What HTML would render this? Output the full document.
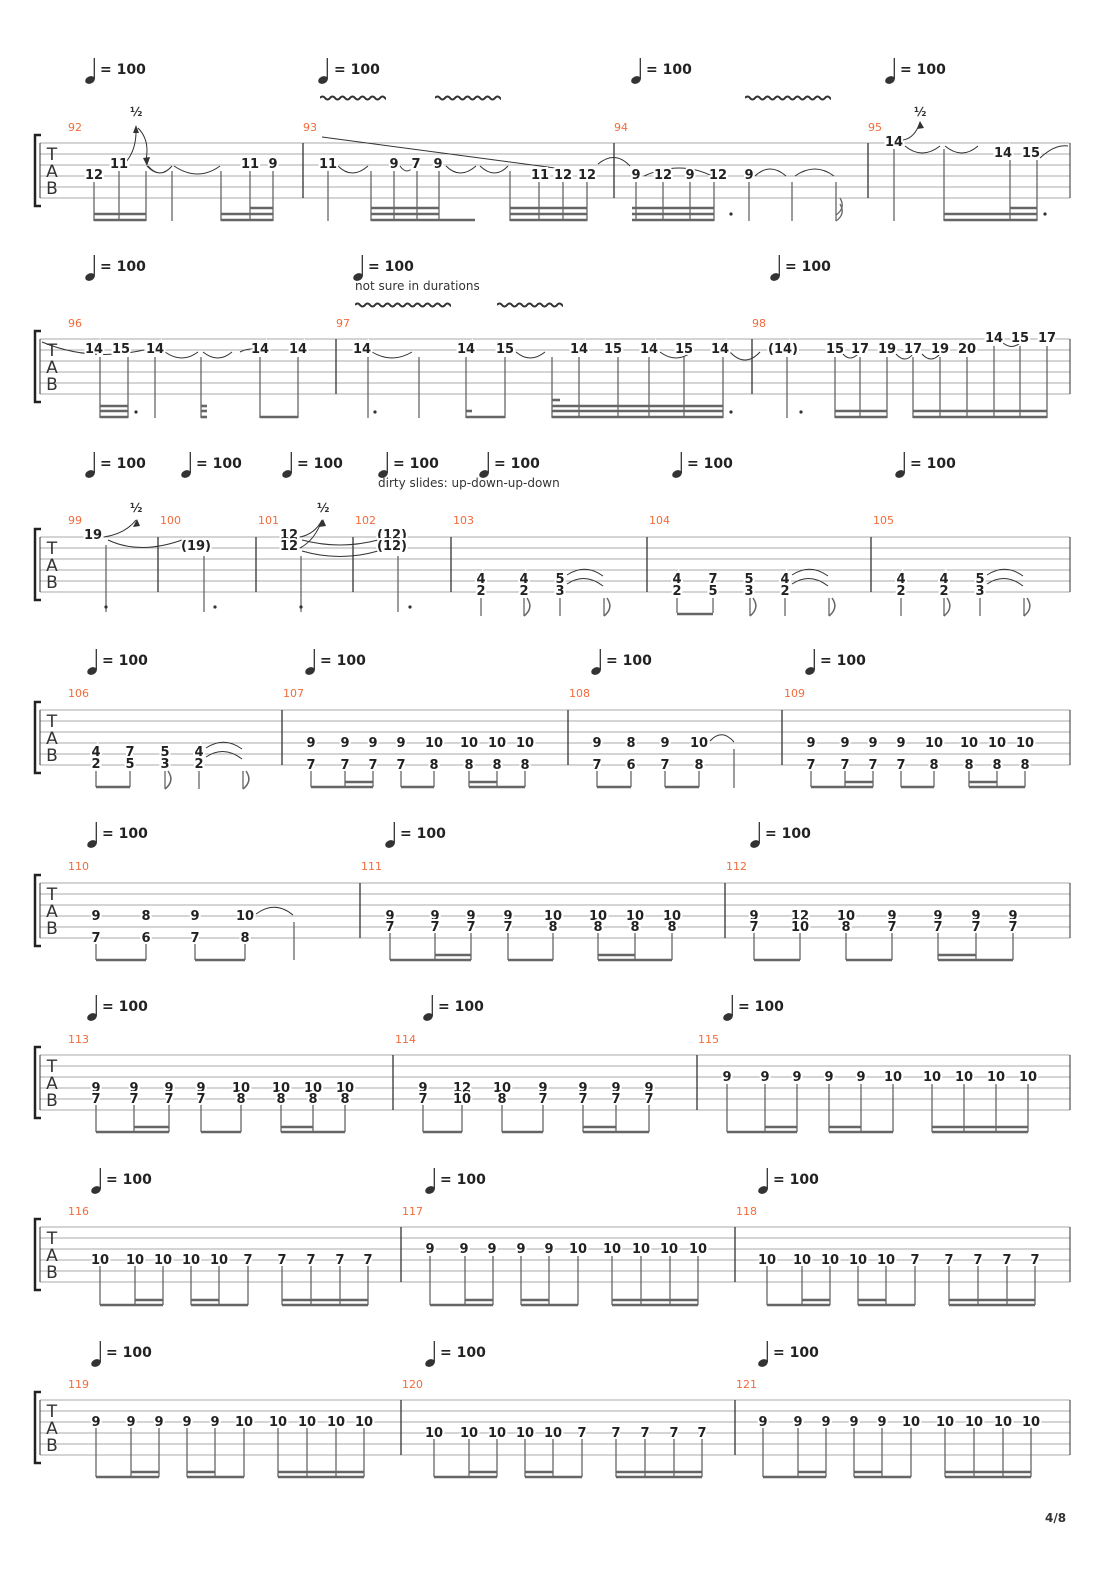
<!DOCTYPE html>
<html><head><meta charset="utf-8"><style>
html,body{margin:0;padding:0;background:#fff}
svg{display:block}
.n{font:bold 13px "DejaVu Sans","Liberation Sans",sans-serif;text-anchor:middle;fill:#222;paint-order:stroke;stroke:#fff;stroke-width:4px}
.bn{font:11px "DejaVu Sans","Liberation Sans",sans-serif;fill:#f26b3a}
.tp{font:bold 14px "DejaVu Sans","Liberation Sans",sans-serif;fill:#222}
.tab{font:17px "DejaVu Sans","Liberation Sans",sans-serif;fill:#333;text-anchor:middle}
.tx{font:12px "DejaVu Sans","Liberation Sans",sans-serif;fill:#333}
.st line{stroke:#aaa;stroke-width:1}
.s{stroke:#666;stroke-width:1.3}
.b{stroke:#666;stroke-width:2.6}
.bar{stroke:#333;stroke-width:1.3}
.tie{fill:none;stroke:#333;stroke-width:1}
</style></head><body>
<svg width="1110" height="1570" viewBox="0 0 1110 1570" xmlns="http://www.w3.org/2000/svg">
<defs>
<g id="q"><ellipse cx="0" cy="0" rx="5" ry="3.6" transform="rotate(-25)" fill="#333"/><line x1="4.3" y1="-1" x2="4.3" y2="-22" stroke="#333" stroke-width="1.3"/></g>
<g id="staff" class="st"><line x1="40" y1="0" x2="1070" y2="0"/><line x1="40" y1="11" x2="1070" y2="11"/><line x1="40" y1="22" x2="1070" y2="22"/><line x1="40" y1="33" x2="1070" y2="33"/><line x1="40" y1="44" x2="1070" y2="44"/><line x1="40" y1="55" x2="1070" y2="55"/></g>
<g id="head"><path d="M41 -8 H35 V63 H41" fill="none" stroke="#222" stroke-width="2.5"/><line x1="40" y1="0" x2="40" y2="55" stroke="#333"/><text class="tab" x="52" y="17">T</text><text class="tab" x="52" y="34">A</text><text class="tab" x="52" y="51">B</text><line x1="1070" y1="0" x2="1070" y2="55" stroke="#333"/></g>
<path id="wv" d="M0 0 q2.5 -3 5 0 t5 0 t5 0 t5 0 t5 0 t5 0 t5 0 t5 0 t5 0 t5 0 t5 0 t5 0 t5 0 t5 0 t5 0 t5 0 t5 0 t5 0 t5 0 t5 0" fill="none" stroke="#333" stroke-width="2"/>
<g id="p7a">
<line class="s" x1="100" y1="1256" x2="100" y2="1305"/><line class="s" x1="135" y1="1256" x2="135" y2="1305"/><line class="s" x1="163" y1="1256" x2="163" y2="1305"/><line class="s" x1="191" y1="1256" x2="191" y2="1305"/><line class="s" x1="219" y1="1256" x2="219" y2="1305"/><line class="s" x1="248" y1="1256" x2="248" y2="1305"/><line class="s" x1="282" y1="1256" x2="282" y2="1305"/><line class="s" x1="311" y1="1256" x2="311" y2="1305"/><line class="s" x1="340" y1="1256" x2="340" y2="1305"/><line class="s" x1="368" y1="1256" x2="368" y2="1305"/>
<line class="b" x1="100" y1="1305" x2="163" y2="1305"/><line class="b" x1="135" y1="1300" x2="163" y2="1300"/><line class="b" x1="191" y1="1305" x2="248" y2="1305"/><line class="b" x1="191" y1="1300" x2="219" y2="1300"/><line class="b" x1="282" y1="1305" x2="368" y2="1305"/><line class="b" x1="282" y1="1300" x2="368" y2="1300"/>
</g>
</defs>

<!-- ============ SYSTEM 1 (top 143) ============ -->
<use href="#staff" y="143"/><use href="#head" y="143"/>
<use href="#q" x="90" y="80"/><text class="tp" x="100" y="74">= 100</text>
<use href="#q" x="323" y="80"/><text class="tp" x="334" y="74">= 100</text>
<use href="#q" x="636" y="80"/><text class="tp" x="646" y="74">= 100</text>
<use href="#q" x="890" y="80"/><text class="tp" x="900" y="74">= 100</text>
<svg x="320" y="94" width="66" height="8" overflow="hidden"><use href="#wv" y="4"/></svg>
<svg x="435" y="94" width="66" height="8" overflow="hidden"><use href="#wv" y="4"/></svg>
<svg x="745" y="94" width="86" height="8" overflow="hidden"><use href="#wv" y="4"/></svg>
<text class="bn" x="68" y="131">92</text><text class="bn" x="303" y="131">93</text><text class="bn" x="614" y="131">94</text><text class="bn" x="868" y="131">95</text>
<line class="bar" x1="303" y1="143" x2="303" y2="198"/><line class="bar" x1="614" y1="143" x2="614" y2="198"/><line class="bar" x1="868" y1="143" x2="868" y2="198"/>
<text class="tx" x="130" y="116" style="font-weight:bold">½</text>
<path class="tie" d="M125 163 Q137 150 136 127 M138 128 Q150 140 146 160"/>
<path d="M133 133 L136 125 L139 133Z M143 158 L147 166 L150 157Z" fill="#333"/>
<path class="tie" d="M147 166 Q160 180 172 166 M148 166 Q160 180 172 166 M174 166 Q198 182 220 166"/>
<line class="s" x1="94" y1="182" x2="94" y2="221"/><line class="s" x1="119" y1="171" x2="119" y2="221"/><line class="s" x1="146" y1="171" x2="146" y2="221"/><line class="s" x1="172" y1="171" x2="172" y2="221"/><line class="s" x1="221" y1="171" x2="221" y2="221"/><line class="s" x1="250" y1="171" x2="250" y2="221"/><line class="s" x1="273" y1="171" x2="273" y2="221"/>
<line class="b" x1="94" y1="214" x2="146" y2="214"/><line class="b" x1="94" y1="220" x2="146" y2="220"/>
<line class="b" x1="221" y1="214" x2="273" y2="214"/><line class="b" x1="221" y1="220" x2="273" y2="220"/><line class="b" x1="250" y1="208" x2="273" y2="208"/>
<text class="n" x="94" y="179">12</text><text class="n" x="119" y="168">11</text><text class="n" x="250" y="168">11</text><text class="n" x="273" y="168">9</text>
<line x1="322" y1="137" x2="555" y2="168" stroke="#333"/>
<path class="tie" d="M338 166 Q352 180 368 166 M400 166 Q407 176 414 166 M446 166 Q460 180 476 166 M480 166 Q495 180 508 166"/>
<line class="s" x1="328" y1="171" x2="328" y2="221"/><line class="s" x1="371" y1="171" x2="371" y2="221"/><line class="s" x1="394" y1="171" x2="394" y2="221"/><line class="s" x1="417" y1="171" x2="417" y2="221"/><line class="s" x1="439" y1="171" x2="439" y2="221"/><line class="s" x1="510" y1="171" x2="510" y2="221"/><line class="s" x1="539" y1="182" x2="539" y2="221"/><line class="s" x1="563" y1="182" x2="563" y2="221"/><line class="s" x1="587" y1="182" x2="587" y2="221"/>
<line class="b" x1="371" y1="208" x2="439" y2="208"/><line class="b" x1="371" y1="214" x2="439" y2="214"/><line class="b" x1="371" y1="220" x2="475" y2="220"/>
<line class="b" x1="510" y1="208" x2="587" y2="208"/><line class="b" x1="510" y1="214" x2="587" y2="214"/><line class="b" x1="510" y1="220" x2="587" y2="220"/>
<text class="n" x="328" y="168">11</text><text class="n" x="394" y="168">9</text><text class="n" x="416" y="168">7</text><text class="n" x="438" y="168">9</text>
<text class="n" x="540" y="179">11</text><text class="n" x="563" y="179">12</text><text class="n" x="587" y="179">12</text>
<path class="tie" d="M598 164 Q615 150 630 166 M644 176 Q680 160 712 176 M755 176 Q770 162 786 176 M795 176 Q815 162 834 176"/>
<line class="s" x1="636" y1="182" x2="636" y2="221"/><line class="s" x1="663" y1="182" x2="663" y2="221"/><line class="s" x1="690" y1="182" x2="690" y2="221"/><line class="s" x1="714" y1="182" x2="714" y2="221"/><line class="s" x1="749" y1="182" x2="749" y2="221"/><line class="s" x1="792" y1="182" x2="792" y2="221"/><line class="s" x1="836" y1="182" x2="836" y2="221"/>
<line class="b" x1="632" y1="208" x2="714" y2="208"/><line class="b" x1="632" y1="214" x2="714" y2="214"/><line class="b" x1="632" y1="220" x2="714" y2="220"/>
<circle cx="731" cy="214" r="1.6" fill="#333"/>
<path d="M836 221 Q846 214 840 204 M836 215 Q846 208 840 198" fill="none" stroke="#666" stroke-width="1.3"/>
<text class="n" x="636" y="179">9</text><text class="n" x="663" y="179">12</text><text class="n" x="690" y="179">9</text><text class="n" x="718" y="179">12</text><text class="n" x="749" y="179">9</text>
<text class="tx" x="914" y="116" style="font-weight:bold">½</text>
<path class="tie" d="M903 140 Q915 138 920 122"/><path d="M917 129 L920 121 L924 128Z" fill="#333"/>
<path class="tie" d="M905 146 Q922 160 940 146 M945 146 Q962 160 978 146 M1040 158 Q1055 144 1068 146"/>
<line class="s" x1="894" y1="149" x2="894" y2="221"/><line class="s" x1="944" y1="149" x2="944" y2="221"/><line class="s" x1="1010" y1="160" x2="1010" y2="221"/><line class="s" x1="1037" y1="160" x2="1037" y2="221"/>
<line class="b" x1="944" y1="214" x2="1037" y2="214"/><line class="b" x1="944" y1="220" x2="1037" y2="220"/><line class="b" x1="1010" y1="208" x2="1037" y2="208"/>
<circle cx="1045" cy="214" r="1.6" fill="#333"/>
<text class="n" x="894" y="146">14</text><text class="n" x="1003" y="157">14</text><text class="n" x="1031" y="157">15</text>

<!-- ============ SYSTEM 2 (top 339) ============ -->
<use href="#staff" y="339"/><use href="#head" y="339"/>
<use href="#q" x="90" y="277"/><text class="tp" x="100" y="271">= 100</text>
<use href="#q" x="358" y="277"/><text class="tp" x="368" y="271">= 100</text>
<use href="#q" x="775" y="277"/><text class="tp" x="785" y="271">= 100</text>
<text class="tx" x="355" y="290">not sure in durations</text>
<svg x="355" y="301" width="96" height="8" overflow="hidden"><use href="#wv" y="4"/></svg>
<svg x="497" y="301" width="66" height="8" overflow="hidden"><use href="#wv" y="4"/></svg>
<text class="bn" x="68" y="327">96</text><text class="bn" x="336" y="327">97</text><text class="bn" x="752" y="327">98</text>
<line class="bar" x1="336" y1="339" x2="336" y2="394"/><line class="bar" x1="752" y1="339" x2="752" y2="394"/>
<path class="tie" d="M42 342 Q90 362 144 350 M165 352 Q182 364 198 352 M203 352 Q218 364 232 352 M240 352 Q252 346 262 352 M372 352 Q392 364 412 352 M516 352 Q530 364 545 352 M660 352 Q676 364 692 352 M730 352 Q745 368 760 352"/>
<line class="s" x1="100" y1="357" x2="100" y2="418"/><line class="s" x1="128" y1="357" x2="128" y2="418"/><line class="s" x1="155" y1="357" x2="155" y2="418"/><line class="s" x1="201" y1="357" x2="201" y2="418"/><line class="s" x1="260" y1="357" x2="260" y2="418"/><line class="s" x1="298" y1="357" x2="298" y2="418"/>
<line class="b" x1="100" y1="406" x2="128" y2="406"/><line class="b" x1="100" y1="411" x2="128" y2="411"/><line class="b" x1="100" y1="417" x2="128" y2="417"/><circle cx="136" cy="412" r="1.6" fill="#333"/>
<line class="b" x1="201" y1="406" x2="207" y2="406"/><line class="b" x1="201" y1="411" x2="207" y2="411"/><line class="b" x1="201" y1="417" x2="207" y2="417"/>
<line class="b" x1="260" y1="417" x2="298" y2="417"/>
<text class="n" x="94" y="353">14</text><text class="n" x="121" y="353">15</text><text class="n" x="155" y="353">14</text><text class="n" x="260" y="353">14</text><text class="n" x="298" y="353">14</text>
<line class="s" x1="368" y1="357" x2="368" y2="418"/><line class="s" x1="419" y1="357" x2="419" y2="418"/><line class="s" x1="466" y1="357" x2="466" y2="418"/><line class="s" x1="505" y1="357" x2="505" y2="418"/><line class="s" x1="552" y1="357" x2="552" y2="418"/><line class="s" x1="579" y1="357" x2="579" y2="418"/><line class="s" x1="618" y1="357" x2="618" y2="418"/><line class="s" x1="649" y1="357" x2="649" y2="418"/><line class="s" x1="684" y1="357" x2="684" y2="418"/><line class="s" x1="723" y1="357" x2="723" y2="418"/>
<circle cx="375" cy="412" r="1.6" fill="#333"/><line class="b" x1="466" y1="411" x2="472" y2="411"/><line class="b" x1="466" y1="417" x2="505" y2="417"/>
<line class="b" x1="552" y1="400" x2="560" y2="400"/><line class="b" x1="552" y1="406" x2="723" y2="406"/><line class="b" x1="552" y1="411" x2="723" y2="411"/><line class="b" x1="552" y1="417" x2="723" y2="417"/><circle cx="731" cy="412" r="1.6" fill="#333"/>
<text class="n" x="362" y="353">14</text><text class="n" x="466" y="353">14</text><text class="n" x="505" y="353">15</text><text class="n" x="579" y="353">14</text><text class="n" x="613" y="353">15</text><text class="n" x="649" y="353">14</text><text class="n" x="684" y="353">15</text><text class="n" x="720" y="353">14</text>
<path class="tie" d="M843 354 Q850 362 858 354 M896 354 Q905 364 913 354 M922 354 Q931 364 940 354 M1003 343 Q1012 350 1020 343"/>
<line class="s" x1="787" y1="357" x2="787" y2="418"/><line class="s" x1="835" y1="357" x2="835" y2="418"/><line class="s" x1="860" y1="357" x2="860" y2="418"/><line class="s" x1="887" y1="357" x2="887" y2="418"/><line class="s" x1="913" y1="357" x2="913" y2="418"/><line class="s" x1="940" y1="357" x2="940" y2="418"/><line class="s" x1="967" y1="357" x2="967" y2="418"/><line class="s" x1="994" y1="346" x2="994" y2="418"/><line class="s" x1="1020" y1="346" x2="1020" y2="418"/><line class="s" x1="1047" y1="346" x2="1047" y2="418"/>
<circle cx="801" cy="412" r="1.6" fill="#333"/>
<line class="b" x1="835" y1="411" x2="887" y2="411"/><line class="b" x1="835" y1="417" x2="887" y2="417"/>
<line class="b" x1="913" y1="411" x2="1047" y2="411"/><line class="b" x1="913" y1="417" x2="1047" y2="417"/>
<text class="n" x="783" y="353">(14)</text><text class="n" x="835" y="353">15</text><text class="n" x="860" y="353">17</text><text class="n" x="887" y="353">19</text><text class="n" x="913" y="353">17</text><text class="n" x="940" y="353">19</text><text class="n" x="967" y="353">20</text>
<text class="n" x="994" y="342">14</text><text class="n" x="1020" y="342">15</text><text class="n" x="1047" y="342">17</text>

<!-- ============ SYSTEM 3 (top 537) ============ -->
<use href="#staff" y="537"/><use href="#head" y="537"/>
<use href="#q" x="90" y="474"/><text class="tp" x="100" y="468">= 100</text>
<use href="#q" x="186" y="474"/><text class="tp" x="196" y="468">= 100</text>
<use href="#q" x="287" y="474"/><text class="tp" x="297" y="468">= 100</text>
<use href="#q" x="383" y="474"/><text class="tp" x="393" y="468">= 100</text>
<use href="#q" x="484" y="474"/><text class="tp" x="494" y="468">= 100</text>
<use href="#q" x="677" y="474"/><text class="tp" x="687" y="468">= 100</text>
<use href="#q" x="900" y="474"/><text class="tp" x="910" y="468">= 100</text>
<text class="tx" x="378" y="487">dirty slides: up-down-up-down</text>
<text class="bn" x="68" y="524">99</text><text class="bn" x="160" y="524">100</text><text class="bn" x="258" y="524">101</text><text class="bn" x="355" y="524">102</text><text class="bn" x="453" y="524">103</text><text class="bn" x="649" y="524">104</text><text class="bn" x="873" y="524">105</text>
<line class="bar" x1="158" y1="537" x2="158" y2="592"/><line class="bar" x1="256" y1="537" x2="256" y2="592"/><line class="bar" x1="353" y1="537" x2="353" y2="592"/><line class="bar" x1="451" y1="537" x2="451" y2="592"/><line class="bar" x1="647" y1="537" x2="647" y2="592"/><line class="bar" x1="871" y1="537" x2="871" y2="592"/>
<text class="tx" x="130" y="512" style="font-weight:bold">½</text>
<path class="tie" d="M104 537 Q125 534 136 520"/><path d="M133 527 L137 519 L140 526Z" fill="#333"/>
<path class="tie" d="M108 540 Q140 555 182 540"/>
<text class="tx" x="317" y="512" style="font-weight:bold">½</text>
<path class="tie" d="M300 537 Q315 534 322 520 M300 548 Q315 540 322 520"/><path d="M319 527 L323 519 L326 526Z" fill="#333"/>
<path class="tie" d="M302 540 Q340 550 378 540 M302 551 Q340 562 378 551"/>
<line class="s" x1="106" y1="545" x2="106" y2="612"/><line class="s" x1="204" y1="556" x2="204" y2="612"/><line class="s" x1="301" y1="556" x2="301" y2="612"/><line class="s" x1="398" y1="556" x2="398" y2="612"/>
<circle cx="106" cy="607" r="1.6" fill="#333"/><circle cx="215" cy="607" r="1.6" fill="#333"/><circle cx="301" cy="607" r="1.6" fill="#333"/><circle cx="410" cy="607" r="1.6" fill="#333"/>
<text class="n" x="93" y="539">19</text><text class="n" x="196" y="550">(19)</text><text class="n" x="289" y="539">12</text><text class="n" x="289" y="550">12</text><text class="n" x="392" y="539">(12)</text><text class="n" x="392" y="550">(12)</text>
<path class="tie" d="M567 575 Q585 563 603 576 M567 584 Q585 572 603 586"/>
<line class="s" x1="481" y1="598" x2="481" y2="616"/><line class="s" x1="524" y1="598" x2="524" y2="616"/><line class="s" x1="560" y1="598" x2="560" y2="616"/><line class="s" x1="604" y1="598" x2="604" y2="616"/>
<path d="M524 616 Q534 608 527 598 M604 616 Q614 608 607 598" fill="none" stroke="#666" stroke-width="1.5"/>
<text class="n" x="481" y="583">4</text><text class="n" x="481" y="595">2</text><text class="n" x="524" y="583">4</text><text class="n" x="524" y="595">2</text><text class="n" x="560" y="583">5</text><text class="n" x="560" y="595">3</text>
<path class="tie" d="M792 575 Q810 563 828 576 M792 584 Q810 572 828 586"/>
<line class="s" x1="677" y1="598" x2="677" y2="613"/><line class="s" x1="713" y1="598" x2="713" y2="613"/><line class="b" x1="677" y1="614" x2="713" y2="614"/>
<line class="s" x1="750" y1="598" x2="750" y2="616"/><line class="s" x1="785" y1="598" x2="785" y2="616"/><line class="s" x1="829" y1="598" x2="829" y2="616"/>
<path d="M750 616 Q760 608 753 598 M829 616 Q839 608 832 598" fill="none" stroke="#666" stroke-width="1.5"/>
<text class="n" x="677" y="583">4</text><text class="n" x="677" y="595">2</text><text class="n" x="713" y="583">7</text><text class="n" x="713" y="595">5</text><text class="n" x="749" y="583">5</text><text class="n" x="749" y="595">3</text><text class="n" x="785" y="583">4</text><text class="n" x="785" y="595">2</text>
<path class="tie" d="M987 575 Q1005 563 1023 576 M987 584 Q1005 572 1023 586"/>
<line class="s" x1="901" y1="598" x2="901" y2="616"/><line class="s" x1="944" y1="598" x2="944" y2="616"/><line class="s" x1="980" y1="598" x2="980" y2="616"/><line class="s" x1="1024" y1="598" x2="1024" y2="616"/>
<path d="M944 616 Q954 608 947 598 M1024 616 Q1034 608 1027 598" fill="none" stroke="#666" stroke-width="1.5"/>
<text class="n" x="901" y="583">4</text><text class="n" x="901" y="595">2</text><text class="n" x="944" y="583">4</text><text class="n" x="944" y="595">2</text><text class="n" x="980" y="583">5</text><text class="n" x="980" y="595">3</text>

<!-- ============ SYSTEM 4 (top 710) ============ -->
<use href="#staff" y="710"/><use href="#head" y="710"/>
<use href="#q" x="92" y="671"/><text class="tp" x="102" y="665">= 100</text>
<use href="#q" x="310" y="671"/><text class="tp" x="320" y="665">= 100</text>
<use href="#q" x="596" y="671"/><text class="tp" x="606" y="665">= 100</text>
<use href="#q" x="810" y="671"/><text class="tp" x="820" y="665">= 100</text>
<text class="bn" x="68" y="697">106</text><text class="bn" x="283" y="697">107</text><text class="bn" x="569" y="697">108</text><text class="bn" x="784" y="697">109</text>
<line class="bar" x1="282" y1="710" x2="282" y2="765"/><line class="bar" x1="568" y1="710" x2="568" y2="765"/><line class="bar" x1="782" y1="710" x2="782" y2="765"/>
<path class="tie" d="M206 748 Q224 736 242 749 M206 757 Q224 745 242 759"/>
<line class="s" x1="96" y1="771" x2="96" y2="787"/><line class="s" x1="130" y1="771" x2="130" y2="787"/><line class="b" x1="96" y1="787" x2="130" y2="787"/>
<line class="s" x1="165" y1="771" x2="165" y2="789"/><line class="s" x1="199" y1="771" x2="199" y2="789"/><line class="s" x1="243" y1="771" x2="243" y2="789"/>
<path d="M165 789 Q175 781 168 771 M243 789 Q253 781 246 771" fill="none" stroke="#666" stroke-width="1.5"/>
<text class="n" x="96" y="756">4</text><text class="n" x="96" y="768">2</text><text class="n" x="130" y="756">7</text><text class="n" x="130" y="768">5</text><text class="n" x="165" y="756">5</text><text class="n" x="165" y="768">3</text><text class="n" x="199" y="756">4</text><text class="n" x="199" y="768">2</text>
<g>
<line class="s" x1="311" y1="771" x2="311" y2="787"/><line class="s" x1="345" y1="771" x2="345" y2="787"/><line class="s" x1="373" y1="771" x2="373" y2="787"/><line class="s" x1="401" y1="771" x2="401" y2="787"/><line class="s" x1="434" y1="771" x2="434" y2="787"/><line class="s" x1="469" y1="771" x2="469" y2="787"/><line class="s" x1="497" y1="771" x2="497" y2="787"/><line class="s" x1="525" y1="771" x2="525" y2="787"/>
<line class="b" x1="311" y1="787" x2="373" y2="787"/><line class="b" x1="345" y1="782" x2="373" y2="782"/><line class="b" x1="401" y1="787" x2="434" y2="787"/><line class="b" x1="469" y1="787" x2="525" y2="787"/><line class="b" x1="469" y1="782" x2="497" y2="782"/>
<text class="n" x="311" y="747">9</text><text class="n" x="345" y="747">9</text><text class="n" x="373" y="747">9</text><text class="n" x="401" y="747">9</text><text class="n" x="434" y="747">10</text><text class="n" x="469" y="747">10</text><text class="n" x="497" y="747">10</text><text class="n" x="525" y="747">10</text>
<text class="n" x="311" y="769">7</text><text class="n" x="345" y="769">7</text><text class="n" x="373" y="769">7</text><text class="n" x="401" y="769">7</text><text class="n" x="434" y="769">8</text><text class="n" x="469" y="769">8</text><text class="n" x="497" y="769">8</text><text class="n" x="525" y="769">8</text>
</g>
<path class="tie" d="M710 741 Q722 728 734 742"/>
<line class="s" x1="597" y1="771" x2="597" y2="787"/><line class="s" x1="631" y1="771" x2="631" y2="787"/><line class="s" x1="665" y1="771" x2="665" y2="787"/><line class="s" x1="699" y1="771" x2="699" y2="787"/><line class="s" x1="734" y1="749" x2="734" y2="788"/>
<line class="b" x1="597" y1="787" x2="631" y2="787"/><line class="b" x1="665" y1="787" x2="699" y2="787"/>
<text class="n" x="597" y="747">9</text><text class="n" x="631" y="747">8</text><text class="n" x="665" y="747">9</text><text class="n" x="699" y="747">10</text>
<text class="n" x="597" y="769">7</text><text class="n" x="631" y="769">6</text><text class="n" x="665" y="769">7</text><text class="n" x="699" y="769">8</text>
<g transform="translate(500,0)">
<line class="s" x1="311" y1="771" x2="311" y2="787"/><line class="s" x1="345" y1="771" x2="345" y2="787"/><line class="s" x1="373" y1="771" x2="373" y2="787"/><line class="s" x1="401" y1="771" x2="401" y2="787"/><line class="s" x1="434" y1="771" x2="434" y2="787"/><line class="s" x1="469" y1="771" x2="469" y2="787"/><line class="s" x1="497" y1="771" x2="497" y2="787"/><line class="s" x1="525" y1="771" x2="525" y2="787"/>
<line class="b" x1="311" y1="787" x2="373" y2="787"/><line class="b" x1="345" y1="782" x2="373" y2="782"/><line class="b" x1="401" y1="787" x2="434" y2="787"/><line class="b" x1="469" y1="787" x2="525" y2="787"/><line class="b" x1="469" y1="782" x2="497" y2="782"/>
<text class="n" x="311" y="747">9</text><text class="n" x="345" y="747">9</text><text class="n" x="373" y="747">9</text><text class="n" x="401" y="747">9</text><text class="n" x="434" y="747">10</text><text class="n" x="469" y="747">10</text><text class="n" x="497" y="747">10</text><text class="n" x="525" y="747">10</text>
<text class="n" x="311" y="769">7</text><text class="n" x="345" y="769">7</text><text class="n" x="373" y="769">7</text><text class="n" x="401" y="769">7</text><text class="n" x="434" y="769">8</text><text class="n" x="469" y="769">8</text><text class="n" x="497" y="769">8</text><text class="n" x="525" y="769">8</text>
</g>

<!-- ============ SYSTEM 5 (top 883) ============ -->
<use href="#staff" y="883"/><use href="#head" y="883"/>
<use href="#q" x="92" y="844"/><text class="tp" x="102" y="838">= 100</text>
<use href="#q" x="390" y="844"/><text class="tp" x="400" y="838">= 100</text>
<use href="#q" x="755" y="844"/><text class="tp" x="765" y="838">= 100</text>
<text class="bn" x="68" y="870">110</text><text class="bn" x="361" y="870">111</text><text class="bn" x="726" y="870">112</text>
<line class="bar" x1="360" y1="883" x2="360" y2="938"/><line class="bar" x1="725" y1="883" x2="725" y2="938"/>
<path class="tie" d="M256 914 Q275 900 293 915"/>
<line class="s" x1="96" y1="944" x2="96" y2="960"/><line class="s" x1="146" y1="944" x2="146" y2="960"/><line class="s" x1="195" y1="944" x2="195" y2="960"/><line class="s" x1="245" y1="944" x2="245" y2="960"/><line class="s" x1="294" y1="922" x2="294" y2="960"/>
<line class="b" x1="96" y1="960" x2="146" y2="960"/><line class="b" x1="195" y1="960" x2="245" y2="960"/>
<text class="n" x="96" y="920">9</text><text class="n" x="146" y="920">8</text><text class="n" x="195" y="920">9</text><text class="n" x="245" y="920">10</text>
<text class="n" x="96" y="942">7</text><text class="n" x="146" y="942">6</text><text class="n" x="195" y="942">7</text><text class="n" x="245" y="942">8</text>
<line class="s" x1="390" y1="933" x2="390" y2="960"/><line class="s" x1="435" y1="933" x2="435" y2="960"/><line class="s" x1="471" y1="933" x2="471" y2="960"/><line class="s" x1="508" y1="933" x2="508" y2="960"/><line class="s" x1="553" y1="933" x2="553" y2="960"/><line class="s" x1="598" y1="933" x2="598" y2="960"/><line class="s" x1="635" y1="933" x2="635" y2="960"/><line class="s" x1="672" y1="933" x2="672" y2="960"/>
<line class="b" x1="390" y1="960" x2="471" y2="960"/><line class="b" x1="435" y1="955" x2="471" y2="955"/><line class="b" x1="508" y1="960" x2="553" y2="960"/><line class="b" x1="598" y1="960" x2="672" y2="960"/><line class="b" x1="598" y1="955" x2="635" y2="955"/>
<text class="n" x="390" y="920">9</text><text class="n" x="435" y="920">9</text><text class="n" x="471" y="920">9</text><text class="n" x="508" y="920">9</text><text class="n" x="553" y="920">10</text><text class="n" x="598" y="920">10</text><text class="n" x="635" y="920">10</text><text class="n" x="672" y="920">10</text>
<text class="n" x="390" y="931">7</text><text class="n" x="435" y="931">7</text><text class="n" x="471" y="931">7</text><text class="n" x="508" y="931">7</text><text class="n" x="553" y="931">8</text><text class="n" x="598" y="931">8</text><text class="n" x="635" y="931">8</text><text class="n" x="672" y="931">8</text>
<line class="s" x1="754" y1="933" x2="754" y2="960"/><line class="s" x1="800" y1="933" x2="800" y2="960"/><line class="s" x1="846" y1="933" x2="846" y2="960"/><line class="s" x1="892" y1="933" x2="892" y2="960"/><line class="s" x1="938" y1="933" x2="938" y2="960"/><line class="s" x1="976" y1="933" x2="976" y2="960"/><line class="s" x1="1013" y1="933" x2="1013" y2="960"/>
<line class="b" x1="754" y1="960" x2="800" y2="960"/><line class="b" x1="846" y1="960" x2="892" y2="960"/><line class="b" x1="938" y1="960" x2="1013" y2="960"/><line class="b" x1="938" y1="955" x2="976" y2="955"/>
<text class="n" x="754" y="920">9</text><text class="n" x="800" y="920">12</text><text class="n" x="846" y="920">10</text><text class="n" x="892" y="920">9</text><text class="n" x="938" y="920">9</text><text class="n" x="976" y="920">9</text><text class="n" x="1013" y="920">9</text>
<text class="n" x="754" y="931">7</text><text class="n" x="800" y="931">10</text><text class="n" x="846" y="931">8</text><text class="n" x="892" y="931">7</text><text class="n" x="938" y="931">7</text><text class="n" x="976" y="931">7</text><text class="n" x="1013" y="931">7</text>

<!-- ============ SYSTEM 6 (top 1055) ============ -->
<use href="#staff" y="1055"/><use href="#head" y="1055"/>
<use href="#q" x="92" y="1017"/><text class="tp" x="102" y="1011">= 100</text>
<use href="#q" x="428" y="1017"/><text class="tp" x="438" y="1011">= 100</text>
<use href="#q" x="728" y="1017"/><text class="tp" x="738" y="1011">= 100</text>
<text class="bn" x="68" y="1043">113</text><text class="bn" x="395" y="1043">114</text><text class="bn" x="698" y="1043">115</text>
<line class="bar" x1="393" y1="1055" x2="393" y2="1110"/><line class="bar" x1="697" y1="1055" x2="697" y2="1110"/>
<line class="s" x1="96" y1="1105" x2="96" y2="1132"/><line class="s" x1="134" y1="1105" x2="134" y2="1132"/><line class="s" x1="169" y1="1105" x2="169" y2="1132"/><line class="s" x1="201" y1="1105" x2="201" y2="1132"/><line class="s" x1="241" y1="1105" x2="241" y2="1132"/><line class="s" x1="281" y1="1105" x2="281" y2="1132"/><line class="s" x1="313" y1="1105" x2="313" y2="1132"/><line class="s" x1="345" y1="1105" x2="345" y2="1132"/>
<line class="b" x1="96" y1="1132" x2="169" y2="1132"/><line class="b" x1="134" y1="1127" x2="169" y2="1127"/><line class="b" x1="201" y1="1132" x2="241" y2="1132"/><line class="b" x1="281" y1="1132" x2="345" y2="1132"/><line class="b" x1="281" y1="1127" x2="313" y2="1127"/>
<text class="n" x="96" y="1092">9</text><text class="n" x="134" y="1092">9</text><text class="n" x="169" y="1092">9</text><text class="n" x="201" y="1092">9</text><text class="n" x="241" y="1092">10</text><text class="n" x="281" y="1092">10</text><text class="n" x="313" y="1092">10</text><text class="n" x="345" y="1092">10</text>
<text class="n" x="96" y="1103">7</text><text class="n" x="134" y="1103">7</text><text class="n" x="169" y="1103">7</text><text class="n" x="201" y="1103">7</text><text class="n" x="241" y="1103">8</text><text class="n" x="281" y="1103">8</text><text class="n" x="313" y="1103">8</text><text class="n" x="345" y="1103">8</text>
<line class="s" x1="423" y1="1105" x2="423" y2="1132"/><line class="s" x1="462" y1="1105" x2="462" y2="1132"/><line class="s" x1="502" y1="1105" x2="502" y2="1132"/><line class="s" x1="543" y1="1105" x2="543" y2="1132"/><line class="s" x1="583" y1="1105" x2="583" y2="1132"/><line class="s" x1="616" y1="1105" x2="616" y2="1132"/><line class="s" x1="649" y1="1105" x2="649" y2="1132"/>
<line class="b" x1="423" y1="1132" x2="462" y2="1132"/><line class="b" x1="502" y1="1132" x2="543" y2="1132"/><line class="b" x1="583" y1="1132" x2="649" y2="1132"/><line class="b" x1="583" y1="1127" x2="616" y2="1127"/>
<text class="n" x="423" y="1092">9</text><text class="n" x="462" y="1092">12</text><text class="n" x="502" y="1092">10</text><text class="n" x="543" y="1092">9</text><text class="n" x="583" y="1092">9</text><text class="n" x="616" y="1092">9</text><text class="n" x="649" y="1092">9</text>
<text class="n" x="423" y="1103">7</text><text class="n" x="462" y="1103">10</text><text class="n" x="502" y="1103">8</text><text class="n" x="543" y="1103">7</text><text class="n" x="583" y="1103">7</text><text class="n" x="616" y="1103">7</text><text class="n" x="649" y="1103">7</text>
<line class="s" x1="727" y1="1084" x2="727" y2="1132"/><line class="s" x1="765" y1="1084" x2="765" y2="1132"/><line class="s" x1="797" y1="1084" x2="797" y2="1132"/><line class="s" x1="829" y1="1084" x2="829" y2="1132"/><line class="s" x1="861" y1="1084" x2="861" y2="1132"/><line class="s" x1="893" y1="1084" x2="893" y2="1132"/><line class="s" x1="932" y1="1084" x2="932" y2="1132"/><line class="s" x1="964" y1="1084" x2="964" y2="1132"/><line class="s" x1="996" y1="1084" x2="996" y2="1132"/><line class="s" x1="1028" y1="1084" x2="1028" y2="1132"/>
<line class="b" x1="727" y1="1132" x2="797" y2="1132"/><line class="b" x1="765" y1="1127" x2="797" y2="1127"/><line class="b" x1="829" y1="1132" x2="893" y2="1132"/><line class="b" x1="829" y1="1127" x2="861" y2="1127"/><line class="b" x1="932" y1="1132" x2="1028" y2="1132"/><line class="b" x1="932" y1="1127" x2="1028" y2="1127"/>
<text class="n" x="727" y="1081">9</text><text class="n" x="765" y="1081">9</text><text class="n" x="797" y="1081">9</text><text class="n" x="829" y="1081">9</text><text class="n" x="861" y="1081">9</text><text class="n" x="893" y="1081">10</text><text class="n" x="932" y="1081">10</text><text class="n" x="964" y="1081">10</text><text class="n" x="996" y="1081">10</text><text class="n" x="1028" y="1081">10</text>

<!-- ============ SYSTEM 7 (top 1227) ============ -->
<use href="#staff" y="1227"/><use href="#head" y="1227"/>
<use href="#q" x="96" y="1190"/><text class="tp" x="106" y="1184">= 100</text>
<use href="#q" x="430" y="1190"/><text class="tp" x="440" y="1184">= 100</text>
<use href="#q" x="763" y="1190"/><text class="tp" x="773" y="1184">= 100</text>
<text class="bn" x="68" y="1215">116</text><text class="bn" x="402" y="1215">117</text><text class="bn" x="736" y="1215">118</text>
<line class="bar" x1="401" y1="1227" x2="401" y2="1282"/><line class="bar" x1="735" y1="1227" x2="735" y2="1282"/>
<use href="#p7a"/>
<text class="n" x="100" y="1264">10</text><text class="n" x="135" y="1264">10</text><text class="n" x="163" y="1264">10</text><text class="n" x="191" y="1264">10</text><text class="n" x="219" y="1264">10</text><text class="n" x="248" y="1264">7</text><text class="n" x="282" y="1264">7</text><text class="n" x="311" y="1264">7</text><text class="n" x="340" y="1264">7</text><text class="n" x="368" y="1264">7</text>
<g transform="translate(330,0)"><use href="#p7a"/></g>
<text class="n" x="430" y="1253">9</text><text class="n" x="464" y="1253">9</text><text class="n" x="492" y="1253">9</text><text class="n" x="521" y="1253">9</text><text class="n" x="549" y="1253">9</text><text class="n" x="578" y="1253">10</text><text class="n" x="612" y="1253">10</text><text class="n" x="641" y="1253">10</text><text class="n" x="669" y="1253">10</text><text class="n" x="698" y="1253">10</text>
<g transform="translate(667,0)"><use href="#p7a"/></g>
<text class="n" x="767" y="1264">10</text><text class="n" x="802" y="1264">10</text><text class="n" x="830" y="1264">10</text><text class="n" x="858" y="1264">10</text><text class="n" x="886" y="1264">10</text><text class="n" x="915" y="1264">7</text><text class="n" x="949" y="1264">7</text><text class="n" x="978" y="1264">7</text><text class="n" x="1007" y="1264">7</text><text class="n" x="1035" y="1264">7</text>

<!-- ============ SYSTEM 8 (top 1400) ============ -->
<use href="#staff" y="1400"/><use href="#head" y="1400"/>
<use href="#q" x="96" y="1363"/><text class="tp" x="106" y="1357">= 100</text>
<use href="#q" x="430" y="1363"/><text class="tp" x="440" y="1357">= 100</text>
<use href="#q" x="763" y="1363"/><text class="tp" x="773" y="1357">= 100</text>
<text class="bn" x="68" y="1388">119</text><text class="bn" x="402" y="1388">120</text><text class="bn" x="736" y="1388">121</text>
<line class="bar" x1="401" y1="1400" x2="401" y2="1455"/><line class="bar" x1="735" y1="1400" x2="735" y2="1455"/>
<g transform="translate(-4,172)"><use href="#p7a"/></g>
<text class="n" x="96" y="1426">9</text><text class="n" x="131" y="1426">9</text><text class="n" x="159" y="1426">9</text><text class="n" x="187" y="1426">9</text><text class="n" x="215" y="1426">9</text><text class="n" x="244" y="1426">10</text><text class="n" x="278" y="1426">10</text><text class="n" x="307" y="1426">10</text><text class="n" x="336" y="1426">10</text><text class="n" x="364" y="1426">10</text>
<g transform="translate(334,172)"><use href="#p7a"/></g>
<text class="n" x="434" y="1437">10</text><text class="n" x="469" y="1437">10</text><text class="n" x="497" y="1437">10</text><text class="n" x="525" y="1437">10</text><text class="n" x="553" y="1437">10</text><text class="n" x="582" y="1437">7</text><text class="n" x="616" y="1437">7</text><text class="n" x="645" y="1437">7</text><text class="n" x="674" y="1437">7</text><text class="n" x="702" y="1437">7</text>
<g transform="translate(663,172)"><use href="#p7a"/></g>
<text class="n" x="763" y="1426">9</text><text class="n" x="798" y="1426">9</text><text class="n" x="826" y="1426">9</text><text class="n" x="854" y="1426">9</text><text class="n" x="882" y="1426">9</text><text class="n" x="911" y="1426">10</text><text class="n" x="945" y="1426">10</text><text class="n" x="974" y="1426">10</text><text class="n" x="1003" y="1426">10</text><text class="n" x="1031" y="1426">10</text>

<text x="1045" y="1522" style="font:bold 12px 'DejaVu Sans',sans-serif;fill:#333">4/8</text>
</svg>
</body></html>
